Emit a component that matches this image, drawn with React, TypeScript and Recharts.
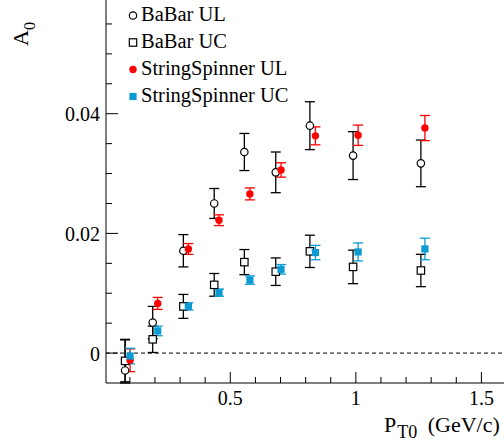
import React from 'react';
import { ScatterChart, Scatter, XAxis, YAxis, ErrorBar, ReferenceLine, Legend } from 'recharts';

// ---- data ----
const babarX = [0.081, 0.191, 0.313, 0.436, 0.556, 0.681, 0.817, 0.989, 1.259];
const babarUL = [-0.0029, 0.0051, 0.0171, 0.025, 0.0336, 0.0302, 0.038, 0.033, 0.0317];
// lower / upper error (the first lower bar runs off the bottom of the frame)
const babarULErrLow = [0.0021, 0.0027, 0.0027, 0.0025, 0.0031, 0.0034, 0.004, 0.004, 0.0039];
const babarULErrHigh = [0.0052, 0.0027, 0.0027, 0.0025, 0.0031, 0.0034, 0.004, 0.004, 0.0039];
const babarUC = [-0.0013, 0.0023, 0.0078, 0.0114, 0.0152, 0.0136, 0.017, 0.0144, 0.0138];
const babarUCErr = [0.0035, 0.0022, 0.002, 0.0019, 0.0021, 0.0023, 0.0027, 0.0028, 0.0027];

const ssX = [0.101, 0.211, 0.333, 0.455, 0.578, 0.702, 0.839, 1.009, 1.275];
const ssUL = [-0.0012, 0.0083, 0.0174, 0.0222, 0.0266, 0.0306, 0.0363, 0.0364, 0.0376];
const ssULErr = [0.0019, 0.001, 0.0009, 0.0009, 0.001, 0.0012, 0.0015, 0.0017, 0.0021];
const ssUC = [-0.0005, 0.0037, 0.0078, 0.0101, 0.0122, 0.014, 0.0168, 0.0169, 0.0174];
const ssUCErr = [0.0013, 0.0008, 0.0006, 0.0006, 0.0007, 0.0008, 0.0012, 0.0015, 0.0018];

const seriesNames = ['BaBar UL', 'BaBar UC', 'StringSpinner UL', 'StringSpinner UC'];

const xTicks = [0.1, 0.2, 0.3, 0.4, 0.5, 0.6, 0.7, 0.8, 0.9, 1.0, 1.1, 1.2, 1.3, 1.4, 1.5];
const xTickLabels: [number, string][] = [[0.5, '0.5'], [1.0, '1'], [1.5, '1.5']];
const yTicks = [0, 0.005, 0.01, 0.015, 0.02, 0.025, 0.03, 0.035, 0.04, 0.045, 0.05, 0.055];
const yTickLabels: [number, string][] = [[0, '0'], [0.02, '0.02'], [0.04, '0.04']];

const xTitleMain = 'P';
const xTitleSub = 'T0';
const xTitleUnit = ' (GeV/c)';
const yTitleMain = 'A';
const yTitleSub = '0';

const RED = '#ff0000';
const BLUE = '#0b9bd2';
const FONT = 'Liberation Serif, Times New Roman, serif';

const mk = (xs: number[], ys: number[], lo: number[], hi: number[]) =>
  xs.map((x, i) => ({ x, y: ys[i], err: [lo[i], hi[i]] }));

const dBabarUL = mk(babarX, babarUL, babarULErrLow, babarULErrHigh);
const dBabarUC = mk(babarX, babarUC, babarUCErr, babarUCErr);
const dSSUL = mk(ssX, ssUL, ssULErr, ssULErr);
const dSSUC = mk(ssX, ssUC, ssUCErr, ssUCErr);

const findLabel = (list: [number, string][], v: number) => {
  const f = list.find(([t]) => Math.abs(t - v) < 1e-9);
  return f ? f[1] : null;
};

// ---- markers ----
const OpenCircle = (p: any) => (
  <circle cx={p.cx} cy={p.cy} r={3.7} fill="#fff" stroke="#000" strokeWidth={1.2} />
);
const OpenSquare = (p: any) => (
  <rect x={p.cx - 3.7} y={p.cy - 3.7} width={7.4} height={7.4} fill="#fff" stroke="#000" strokeWidth={1.2} />
);
const RedDot = (p: any) => <circle cx={p.cx} cy={p.cy} r={3.7} fill={RED} />;
const BlueSq = (p: any) => (
  <rect x={p.cx - 3.6} y={p.cy - 3.6} width={7.2} height={7.2} fill={BLUE} />
);

// ---- ticks ----
const XTick = (p: any) => {
  const v = p.payload.value;
  const label = findLabel(xTickLabels, v);
  return (
    <g>
      <line x1={p.x} x2={p.x} y1={p.y} y2={p.y - (label ? 11 : 6)} stroke="#000" strokeWidth={1} />
      {label && (
        <text x={p.x} y={p.y + 22} textAnchor="middle" fontFamily={FONT} fontSize={20} fill="#000">
          {label}
        </text>
      )}
    </g>
  );
};

const YTick = (p: any) => {
  const v = p.payload.value;
  const label = findLabel(yTickLabels, v);
  return (
    <g>
      <line x1={p.x} x2={p.x + (label ? 12 : 6)} y1={p.y} y2={p.y} stroke="#000" strokeWidth={1} />
      {label && (
        <text x={p.x - 6} y={p.y + 7.5} textAnchor="end" fontFamily={FONT} fontSize={20} fill="#000">
          {label}
        </text>
      )}
    </g>
  );
};

const XTitle = () => (
  <text x={384} y={432} fontFamily={FONT} fontSize={22} fill="#000">
    {xTitleMain}
    <tspan dx={1} dy={6} fontSize={18}>{xTitleSub}</tspan>
    <tspan dx={5} dy={-6}>{xTitleUnit}</tspan>
  </text>
);

const YTitle = () => (
  <text x={28} y={22} transform="rotate(-90 28 22)" textAnchor="end" fontFamily={FONT} fontSize={22} fill="#000">
    {yTitleMain}
    <tspan dy={7} fontSize={16}>{yTitleSub}</tspan>
  </text>
);

const LegendBox = () => {
  const rows = [0, 1, 2, 3];
  const markerX = 133;
  const cy = (i: number) => 15.5 + i * 27;
  return (
    <svg width={320} height={112} style={{ display: 'block', overflow: 'visible' }}>
      <circle cx={markerX} cy={cy(0)} r={3.7} fill="#fff" stroke="#000" strokeWidth={1.2} />
      <rect x={markerX - 3.7} y={cy(1) - 3.7} width={7.4} height={7.4} fill="#fff" stroke="#000" strokeWidth={1.2} />
      <circle cx={markerX} cy={cy(2)} r={3.7} fill={RED} />
      <rect x={markerX - 3.6} y={cy(3) - 3.6} width={7.2} height={7.2} fill={BLUE} />
      {rows.map((i) => (
        <text key={i} x={141} y={cy(i) + 5.7} fontFamily={FONT} fontSize={20.5} fill="#000">
          {seriesNames[i]}
        </text>
      ))}
    </svg>
  );
};

export default function App() {
  return (
    <div style={{ position: 'absolute', left: 0, top: 0, width: 504, height: 445, overflow: 'hidden', background: '#fff' }}>
      <ScatterChart width={504} height={445} margin={{ top: 0, right: 0, bottom: 0, left: 0 }}>
        <XAxis
          type="number"
          dataKey="x"
          domain={[0.005, 1.59]}
          allowDataOverflow
          ticks={xTicks}
          interval={0}
          tickSize={0}
          tickMargin={0}
          tickLine={false}
          tick={<XTick />}
          height={62}
          axisLine={{ stroke: '#000', strokeWidth: 1 }}
          label={<XTitle />}
        />
        <YAxis
          type="number"
          dataKey="y"
          domain={[-0.005, 0.059]}
          allowDataOverflow
          ticks={yTicks}
          interval={0}
          tickSize={0}
          tickMargin={0}
          tickLine={false}
          tick={<YTick />}
          width={106}
          axisLine={{ stroke: '#000', strokeWidth: 1 }}
          label={<YTitle />}
        />
        <ReferenceLine y={0} stroke="#000" strokeWidth={1} strokeDasharray="4 3" />
        <Legend
          layout="horizontal"
          verticalAlign="middle"
          align="center"
          wrapperStyle={{ position: 'absolute', left: 0, top: 0, width: 320, height: 112 }}
          content={<LegendBox />}
        />
        <Scatter name={seriesNames[0]} data={dBabarUL} shape={<OpenCircle />} isAnimationActive={false}>
          <ErrorBar dataKey="err" direction="y" width={5} stroke="#000" strokeWidth={1.3} />
        </Scatter>
        <Scatter name={seriesNames[1]} data={dBabarUC} shape={<OpenSquare />} isAnimationActive={false}>
          <ErrorBar dataKey="err" direction="y" width={5} stroke="#000" strokeWidth={1.3} />
        </Scatter>
        <Scatter name={seriesNames[2]} data={dSSUL} shape={<RedDot />} isAnimationActive={false}>
          <ErrorBar dataKey="err" direction="y" width={5} stroke={RED} strokeWidth={1.3} />
        </Scatter>
        <Scatter name={seriesNames[3]} data={dSSUC} shape={<BlueSq />} isAnimationActive={false}>
          <ErrorBar dataKey="err" direction="y" width={5} stroke={BLUE} strokeWidth={1.3} />
        </Scatter>
      </ScatterChart>
    </div>
  );
}
